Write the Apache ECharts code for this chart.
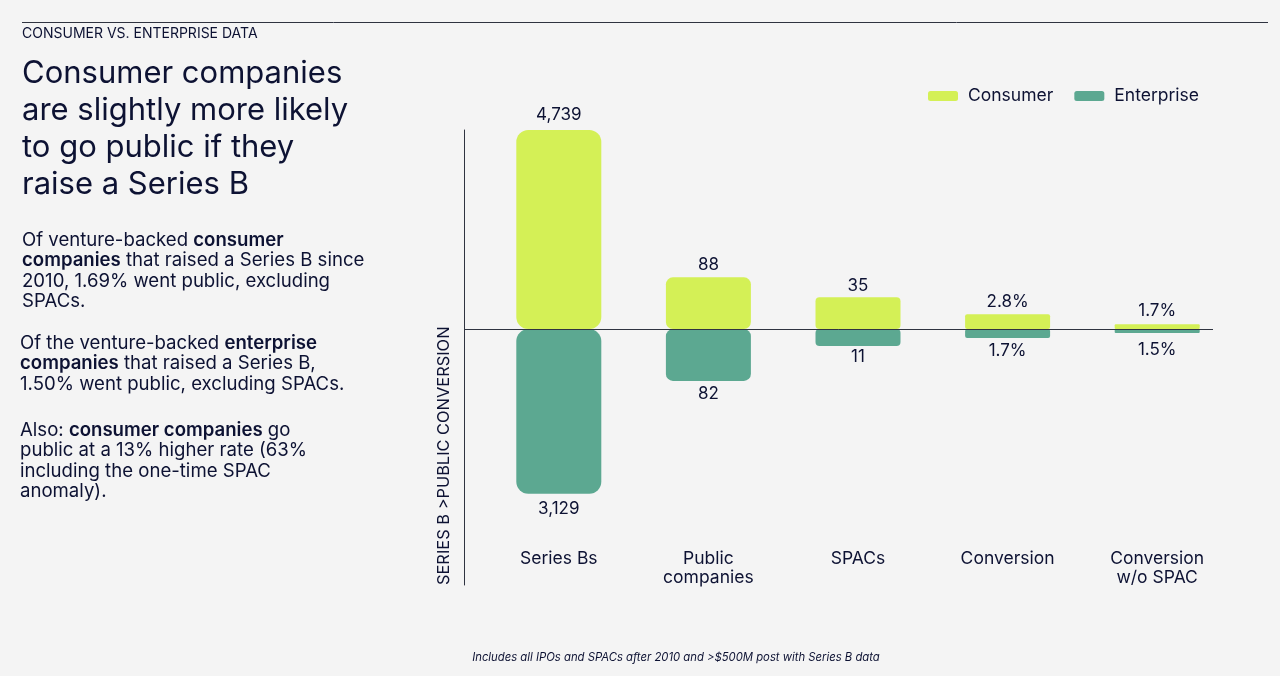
<!DOCTYPE html>
<html>
<head>
<meta charset="utf-8">
<style>
  html, body { margin: 0; padding: 0; background: #f4f4f4; }
  #chart { width: 1280px; height: 676px; }
</style>
<script src="https://cdn.jsdelivr.net/npm/echarts@6/dist/echarts.min.js"></script>
</head>
<body>
<div id="chart"></div>
<script>
const categories = ['Series Bs', 'Public\ncompanies', 'SPACs', 'Conversion', 'Conversion\nw/o SPAC'];
// the picture is not drawn to one scale, so bar lengths are read as % of the tallest bar
const consumerLengths = [100, 26, 16, 7.5, 2.5];
const enterpriseLengths = [-82.7, -26, -8.5, -4.5, -2];
const consumerLabels = ['4,739', '88', '35', '2.8%', '1.7%'];
const enterpriseLabels = ['3,129', '82', '11', '1.7%', '1.5%'];
const cornerRadii = [12, 7, 4, 2, 1];
const consumerLabelGaps = [7, 4, 3, 4, 5];
const enterpriseLabelGaps = [7, 4, 2, 4, 8];

const font = 'Inter';
const ink = '#0d1233';
const lineColor = '#2f3340';
const consumerColor = '#d4f056';
const enterpriseColor = '#5ca891';

const myChart = echarts.init(document.getElementById('chart'));

function bars(name, lengths, labels, gaps, color, position) {
    return {
        name: name,
        type: 'bar',
        barWidth: 85,
        barGap: '-100%',
        itemStyle: { color: color },
        data: lengths.map((v, i) => ({
            value: v,
            itemStyle: { borderRadius: cornerRadii[i] },
            label: { distance: gaps[i] }
        })),
        label: {
            show: true,
            position: position,
            fontFamily: font,
            fontSize: 17,
            color: ink,
            formatter: p => labels[p.dataIndex]
        }
    };
}

myChart.setOption({
    backgroundColor: '#f4f4f4',
    animation: false,
    textStyle: { fontFamily: font, color: ink },
    title: {
        text: 'Consumer companies\nare slightly more likely\nto go public if they\nraise a Series B',
        left: 22,
        top: 55,
        padding: 0,
        textStyle: { fontFamily: font, fontSize: 31, fontWeight: 400, lineHeight: 37, color: ink }
    },
    legend: {
        left: 928,
        top: 87,
        icon: 'roundRect',
        itemWidth: 30,
        itemHeight: 10,
        itemGap: 21,
        padding: 0,
        textStyle: { fontFamily: font, fontSize: 17.5, color: ink, padding: [0, 0, 0, 5] }
    },
    grid: { left: 484, width: 748, top: 130, bottom: 91 },
    xAxis: {
        type: 'category',
        data: categories,
        axisLine: { show: false, onZero: false },
        axisTick: { show: false },
        axisLabel: {
            margin: -36,
            interval: 0,
            fontFamily: font,
            fontSize: 17.5,
            lineHeight: 19,
            color: ink
        }
    },
    yAxis: {
        type: 'value',
        min: -128.5,
        max: 100,
        offset: 20,
        axisLine: { show: true, lineStyle: { color: lineColor, width: 1 } },
        axisTick: { show: false },
        axisLabel: { show: false },
        splitLine: { show: false }
    },
    series: [
        bars('Consumer', consumerLengths, consumerLabels, consumerLabelGaps, consumerColor, 'top'),
        bars('Enterprise', enterpriseLengths, enterpriseLabels, enterpriseLabelGaps, enterpriseColor, 'bottom')
    ]
});

function richText(text, x, y) {
    return {
        type: 'text',
        x: x,
        y: y,
        style: {
            text: text,
            fontFamily: font,
            fontSize: 18.6,
            lineHeight: 20.5,
            fill: ink,
            rich: { b: { fontFamily: font, fontSize: 18.6, fontWeight: 600, lineHeight: 20.5, fill: ink } }
        }
    };
}

const zeroY = Math.round(myChart.convertToPixel({ yAxisIndex: 0 }, 0)) + 0.5;

myChart.setOption({
    graphic: [
        // header rule and zero line
        { type: 'line', shape: { x1: 22, y1: 22.5, x2: 1268, y2: 22.5 }, style: { stroke: lineColor, lineWidth: 1 } },
        { type: 'line', z: 100, shape: { x1: 464, y1: zeroY, x2: 1213, y2: zeroY }, style: { stroke: lineColor, lineWidth: 1 } },
        { type: 'text', x: 22, y: 27, style: { text: 'CONSUMER VS. ENTERPRISE DATA', fontFamily: font, fontSize: 14, fill: ink } },
        richText('Of venture-backed {b|consumer}\n{b|companies} that raised a Series B since\n2010, 1.69% went public, excluding\nSPACs.', 22, 230),
        richText('Of the venture-backed {b|enterprise}\n{b|companies} that raised a Series B,\n1.50% went public, excluding SPACs.', 20, 333),
        richText('Also: {b|consumer companies} go\npublic at a 13% higher rate (63%\nincluding the one-time SPAC\nanomaly).', 20, 420),
        {
            type: 'text',
            x: 444,
            y: 585,
            rotation: Math.PI / 2,
            style: {
                text: 'SERIES B >PUBLIC CONVERSION',
                fontFamily: font,
                fontSize: 16.4,
                fill: ink,
                align: 'left',
                verticalAlign: 'middle'
            }
        },
        {
            type: 'text',
            x: 676,
            y: 658,
            style: {
                text: 'Includes all IPOs and SPACs after 2010 and >$500M post with Series B data',
                fontFamily: font,
                fontSize: 11.3,
                fontStyle: 'italic',
                fill: ink,
                align: 'center',
                verticalAlign: 'middle'
            }
        }
    ]
});
</script>
</body>
</html>
